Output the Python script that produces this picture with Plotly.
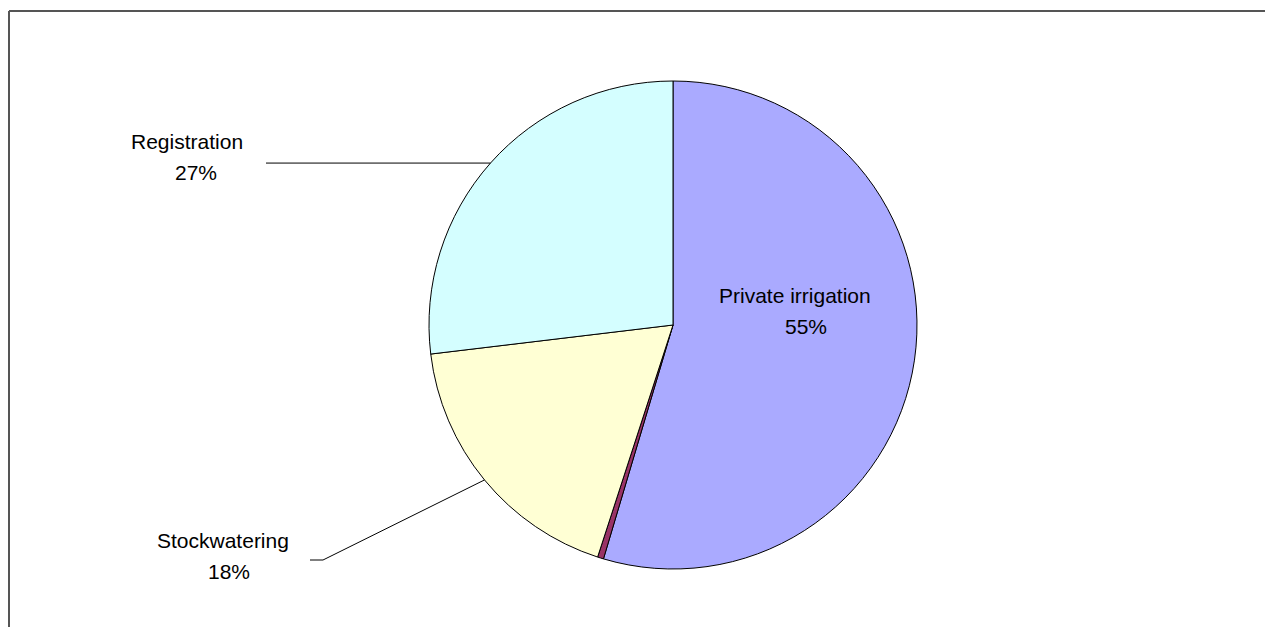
import math
import plotly.graph_objects as go

# ---- data ----
categories = ["Private irrigation", "Other", "Stockwatering", "Registration"]
values = [54.6, 0.4, 18.1, 26.9]
label_pct = ["55%", "", "18%", "27%"]
colors = ["#AAAAFF", "#993366", "#FFFFD4", "#D4FEFF"]

# ---- layout geometry (pixels in the browser window) ----
W, H = 1273, 627
OFF = 8  # default page body margin
CX, CY, R = 673, 325, 244

def px(x):
    return (x - OFF) / W

def py(y):
    return 1 - (y - OFF) / H

fig = go.Figure()
fig.add_trace(go.Pie(
    labels=categories,
    values=values,
    sort=False,
    direction="clockwise",
    rotation=0,
    textinfo="none",
    hoverinfo="label+percent",
    marker=dict(colors=colors, line=dict(color="#000000", width=1)),
    domain=dict(x=[px(CX - R), px(CX + R)], y=[py(CY + R), py(CY - R)]),
    showlegend=False,
))

# angle of slice mid-points (clockwise from 12 o'clock)
total = sum(values)
cum = 0
mids = []
for v in values:
    mids.append((cum + v / 2) / total * 2 * math.pi)
    cum += v

def edge(i):
    a = mids[i]
    return CX + R * math.sin(a), CY - R * math.cos(a)

font = dict(family="Liberation Sans, Arial, sans-serif", size=21, color="#000000")
shapes = []
annotations = []

# Registration (outside, horizontal leader)
ex, ey = edge(3)
shapes.append(dict(type="line", xref="paper", yref="paper",
                   x0=px(266), y0=py(ey), x1=px(ex), y1=py(ey),
                   line=dict(color="#000000", width=1)))
annotations.append(dict(text=categories[3], x=px(187), y=py(141)))
annotations.append(dict(text=label_pct[3], x=px(196), y=py(173)))

# Stockwatering (outside, bent leader)
ex, ey = edge(2)
shapes.append(dict(type="path", xref="paper", yref="paper",
                   path=f"M {px(310)},{py(560)} L {px(323)},{py(560)} L {px(ex)},{py(ey)}",
                   line=dict(color="#000000", width=1)))
annotations.append(dict(text=categories[2], x=px(223), y=py(540)))
annotations.append(dict(text=label_pct[2], x=px(229), y=py(571)))

# Private irrigation (inside)
annotations.append(dict(text=categories[0], x=px(795), y=py(295)))
annotations.append(dict(text=label_pct[0], x=px(806), y=py(326)))

for a in annotations:
    a.update(xref="paper", yref="paper", showarrow=False, font=font,
             xanchor="center", yanchor="middle")

# chart-area frame (only top and left edges visible)
shapes.append(dict(type="line", xref="paper", yref="paper",
                   x0=px(9), y0=py(11), x1=1, y1=py(11),
                   line=dict(color="#555555", width=2)))
shapes.append(dict(type="line", xref="paper", yref="paper",
                   x0=px(9), y0=py(11), x1=px(9), y1=0,
                   line=dict(color="#555555", width=2)))

fig.update_layout(
    width=W, height=H,
    margin=dict(l=0, r=0, t=0, b=0),
    paper_bgcolor="#FFFFFF",
    plot_bgcolor="#FFFFFF",
    shapes=shapes,
    annotations=annotations,
)

fig.write_html("out.html")
